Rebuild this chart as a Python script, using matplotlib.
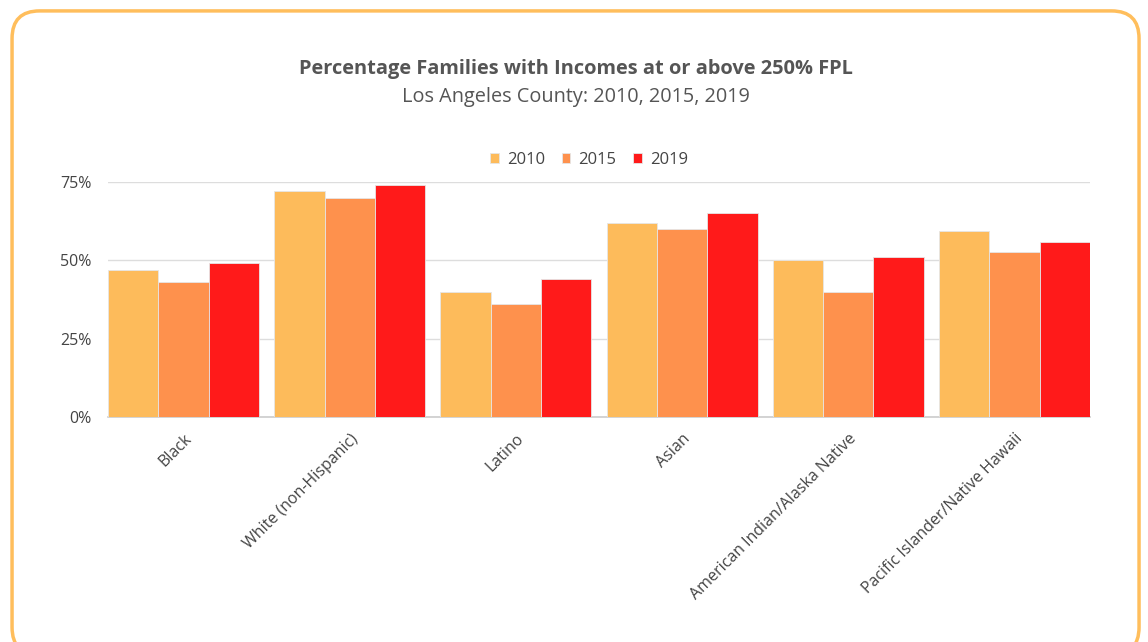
import matplotlib
matplotlib.use("Agg")
import matplotlib.pyplot as plt
import numpy as np
from matplotlib.patches import FancyBboxPatch

plt.rcParams['font.family'] = ['Open Sans', 'DejaVu Sans']

# data
groups = ['Black', 'White (non-Hispanic)', 'Latino', 'Asian',
          'American Indian/Alaska Native', 'Pacific Islander/Native Hawaii']
years = ['2010', '2015', '2019']
v2010 = [47, 72, 40, 62, 50, 59.5]
v2015 = [43, 70, 36, 60, 40, 52.5]
v2019 = [49, 74, 44, 65, 51, 56]
colors = ['#FDBB5B', '#FE914D', '#FF1A1A']

fig = plt.figure(figsize=(11.48, 6.42), dpi=100)

# rounded orange frame
frame = FancyBboxPatch((0.0105, -0.02), 0.9817, 1.003, boxstyle="round,pad=0,rounding_size=0.024",
                       transform=fig.transFigure, facecolor='none', edgecolor='#FFBE5C',
                       linewidth=2.5, mutation_aspect=1148 / 642)
fig.patches.append(frame)

ax = fig.add_axes([0.0941, 0.3505, 0.8554, 0.366])

x = np.arange(len(groups))
w = 0.303
for i, (vals, yr) in enumerate(zip([v2010, v2015, v2019], years)):
    ax.bar(x + (i - 1) * w, vals, w, color=colors[i], label=yr,
           edgecolor='#e6e6e6', linewidth=0.6, zorder=3)

ax.set_xlim(-1.5 * w, len(groups) - 1 + 1.5 * w)
ax.set_ylim(0, 75)
ax.set_yticks([0, 25, 50, 75])
ax.set_yticklabels(['0%', '25%', '50%', '75%'])
ax.yaxis.grid(True, color='#dddddd', linewidth=1, zorder=0)
ax.set_axisbelow(True)
for s in ['top', 'right', 'left']:
    ax.spines[s].set_visible(False)
ax.spines['bottom'].set_color('#cccccc')
ax.spines['bottom'].set_linewidth(1.2)
ax.tick_params(axis='both', length=0, labelsize=11.5, labelcolor='#444444')
ax.tick_params(axis='y', pad=12)
ax.set_xticks(x)
ax.set_xticklabels(groups, rotation=45, ha='right', rotation_mode='anchor')
ax.tick_params(axis='x', pad=10)

fig.text(0.5017, 0.893, 'Percentage Families with Incomes at or above 250% FPL',
         ha='center', va='center', fontsize=14.4, fontweight='bold', color='#555555')
fig.text(0.5017, 0.849, 'Los Angeles County: 2010, 2015, 2019',
         ha='center', va='center', fontsize=14.3, color='#555555')

leg = ax.legend(loc='center', bbox_to_anchor=(0.49, 1.095), ncol=3, frameon=False,
                fontsize=12, handlelength=0.5, handleheight=0.5, handletextpad=0.5,
                columnspacing=1.0, labelcolor='#444444')

fig.savefig('out.png', dpi=100)
